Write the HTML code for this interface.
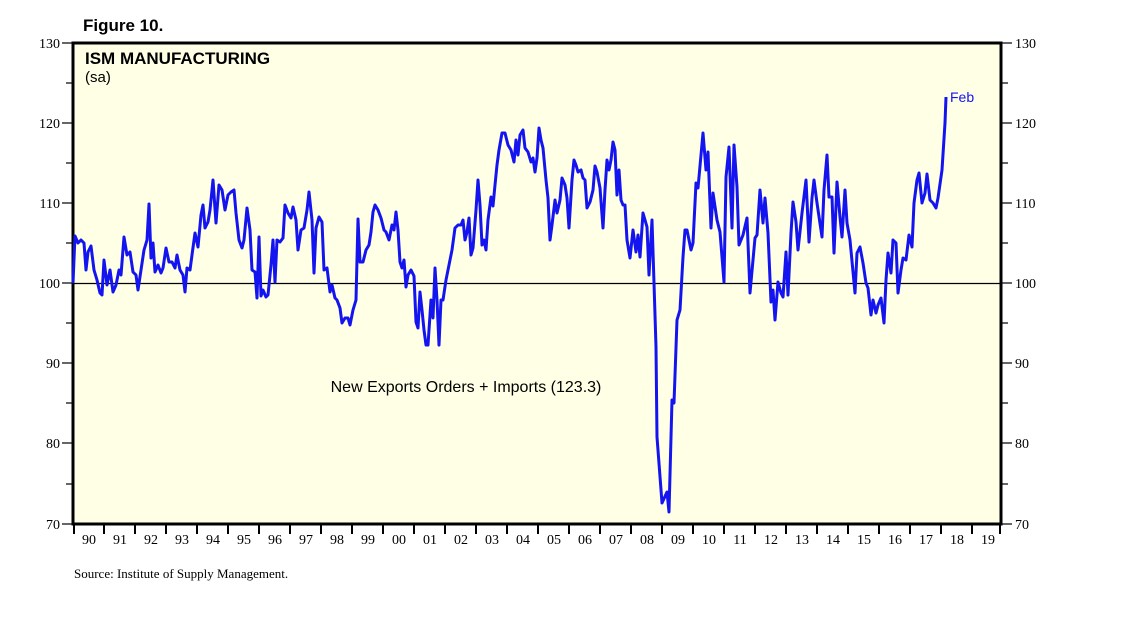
<!DOCTYPE html>
<html><head><meta charset="utf-8"><style>
body{margin:0;background:#fff;width:1138px;height:621px;overflow:hidden}
</style></head><body>
<svg width="1138" height="621" viewBox="0 0 1138 621" xmlns="http://www.w3.org/2000/svg">
<rect x="73" y="43" width="928" height="481" fill="#ffffe6"/>
<line x1="73" y1="283.5" x2="1001" y2="283.5" stroke="#000" stroke-width="1.2"/>
<g stroke="#000" stroke-width="1.2">
<line x1="62" y1="43" x2="73" y2="43"/><line x1="66" y1="83" x2="73" y2="83"/>
<line x1="62" y1="123" x2="73" y2="123"/><line x1="66" y1="163" x2="73" y2="163"/>
<line x1="62" y1="203" x2="73" y2="203"/><line x1="66" y1="243" x2="73" y2="243"/>
<line x1="62" y1="283" x2="73" y2="283"/><line x1="66" y1="323" x2="73" y2="323"/>
<line x1="62" y1="363" x2="73" y2="363"/><line x1="66" y1="403" x2="73" y2="403"/>
<line x1="62" y1="443" x2="73" y2="443"/><line x1="66" y1="484" x2="73" y2="484"/>
<line x1="62" y1="524" x2="73" y2="524"/>
<line x1="1001" y1="43" x2="1012" y2="43"/><line x1="1001" y1="83" x2="1008" y2="83"/>
<line x1="1001" y1="123" x2="1012" y2="123"/><line x1="1001" y1="163" x2="1008" y2="163"/>
<line x1="1001" y1="203" x2="1012" y2="203"/><line x1="1001" y1="243" x2="1008" y2="243"/>
<line x1="1001" y1="283" x2="1012" y2="283"/><line x1="1001" y1="323" x2="1008" y2="323"/>
<line x1="1001" y1="363" x2="1012" y2="363"/><line x1="1001" y1="403" x2="1008" y2="403"/>
<line x1="1001" y1="443" x2="1012" y2="443"/><line x1="1001" y1="484" x2="1008" y2="484"/>
<line x1="1001" y1="524" x2="1012" y2="524"/>
</g>
<g stroke="#000" stroke-width="2">
<line x1="104" y1="524" x2="104" y2="534"/><line x1="135" y1="524" x2="135" y2="534"/><line x1="166" y1="524" x2="166" y2="534"/><line x1="197" y1="524" x2="197" y2="534"/><line x1="228" y1="524" x2="228" y2="534"/><line x1="259" y1="524" x2="259" y2="534"/><line x1="290" y1="524" x2="290" y2="534"/><line x1="321" y1="524" x2="321" y2="534"/><line x1="352" y1="524" x2="352" y2="534"/><line x1="383" y1="524" x2="383" y2="534"/><line x1="414" y1="524" x2="414" y2="534"/><line x1="445" y1="524" x2="445" y2="534"/><line x1="476" y1="524" x2="476" y2="534"/><line x1="507" y1="524" x2="507" y2="534"/><line x1="538" y1="524" x2="538" y2="534"/><line x1="569" y1="524" x2="569" y2="534"/><line x1="600" y1="524" x2="600" y2="534"/><line x1="631" y1="524" x2="631" y2="534"/><line x1="662" y1="524" x2="662" y2="534"/><line x1="693" y1="524" x2="693" y2="534"/><line x1="724" y1="524" x2="724" y2="534"/><line x1="755" y1="524" x2="755" y2="534"/><line x1="786" y1="524" x2="786" y2="534"/><line x1="817" y1="524" x2="817" y2="534"/><line x1="848" y1="524" x2="848" y2="534"/><line x1="879" y1="524" x2="879" y2="534"/><line x1="910" y1="524" x2="910" y2="534"/><line x1="941" y1="524" x2="941" y2="534"/><line x1="972" y1="524" x2="972" y2="534"/><line x1="74" y1="524" x2="74" y2="534"/><line x1="1000" y1="524" x2="1000" y2="534"/>
</g>
<g font-family="Liberation Serif, serif" font-size="14" fill="#000">
<g text-anchor="end"><text x="60" y="48">130</text><text x="60" y="128">120</text><text x="60" y="208">110</text><text x="60" y="288">100</text><text x="60" y="368">90</text><text x="60" y="448">80</text><text x="60" y="529">70</text></g>
<g><text x="1015" y="48">130</text><text x="1015" y="128">120</text><text x="1015" y="208">110</text><text x="1015" y="288">100</text><text x="1015" y="368">90</text><text x="1015" y="448">80</text><text x="1015" y="529">70</text></g>
<g text-anchor="middle"><text x="89" y="544">90</text><text x="120" y="544">91</text><text x="151" y="544">92</text><text x="182" y="544">93</text><text x="213" y="544">94</text><text x="244" y="544">95</text><text x="275" y="544">96</text><text x="306" y="544">97</text><text x="337" y="544">98</text><text x="368" y="544">99</text><text x="399" y="544">00</text><text x="430" y="544">01</text><text x="461" y="544">02</text><text x="492" y="544">03</text><text x="523" y="544">04</text><text x="554" y="544">05</text><text x="585" y="544">06</text><text x="616" y="544">07</text><text x="647" y="544">08</text><text x="678" y="544">09</text><text x="709" y="544">10</text><text x="740" y="544">11</text><text x="771" y="544">12</text><text x="802" y="544">13</text><text x="833" y="544">14</text><text x="864" y="544">15</text><text x="895" y="544">16</text><text x="926" y="544">17</text><text x="957" y="544">18</text><text x="988" y="544">19</text></g>
<text x="74" y="578" font-size="13">Source: Institute of Supply Management.</text>
</g>
<rect x="73" y="43" width="928" height="481" fill="none" stroke="#000" stroke-width="3"/>
<g font-family="Liberation Sans, sans-serif">
<text x="83" y="31" font-size="17" font-weight="bold">Figure 10.</text>
<text x="85" y="64" font-size="17" font-weight="bold">ISM MANUFACTURING</text>
<text x="85" y="82" font-size="15">(sa)</text>
<text x="466" y="392" font-size="16" text-anchor="middle">New Exports Orders + Imports (123.3)</text>
<text x="950" y="102" font-size="14" fill="#1414f0">Feb</text>
</g>
<polyline fill="none" stroke="#1414f0" stroke-width="3" stroke-linejoin="round" points="73,283 75,236 78,243 81,240 84,243 86,270 88,252 91,246 94,270 97,280 100,293 102,295 104,260 107,285 110,270 113,292 116,285 119,270 121,275 124,237 127,255 130,252 133,272 136,275 138,290 141,270 144,250 147,240 149,204 151,258 153,243 155,272 158,265 161,273 163,268 166,248 169,262 172,262 175,268 177,255 180,270 183,275 185,292 187,268 190,270 192,255 195,233 198,247 201,215 203,205 205,228 208,222 210,210 213,180 216,223 219,185 222,190 225,210 228,195 231,192 234,190 236,213 239,240 242,248 244,240 247,208 250,230 252,270 255,272 257,298 259,237 261,296 263,290 266,297 268,295 271,265 273,240 275,282 277,240 280,242 283,238 285,205 288,213 291,218 293,207 296,220 298,250 301,230 304,228 307,210 309,192 312,220 314,273 316,228 319,217 322,222 324,270 327,268 330,292 332,285 335,298 337,300 340,308 342,323 345,318 348,318 350,325 353,310 356,300 358,219 360,262 363,262 366,250 369,245 371,232 373,212 375,205 378,210 381,218 384,230 386,232 389,240 392,225 394,230 396,212 398,230 400,262 402,268 404,260 406,287 408,275 411,270 414,276 416,322 418,328 420,292 422,310 424,330 426,345 428,345 431,300 433,318 435,268 437,300 439,345 441,300 443,300 446,280 449,265 452,250 455,228 458,225 461,225 463,220 465,240 467,232 469,218 471,255 473,248 476,210 478,180 480,205 482,245 484,240 486,250 488,220 491,197 493,206 495,185 497,165 499,150 502,133 505,133 508,145 511,150 514,162 516,140 518,155 520,135 523,130 525,148 528,152 531,162 533,158 535,172 537,158 539,128 541,140 543,148 546,180 548,198 550,240 552,225 555,200 557,213 560,200 562,178 565,185 567,198 569,228 572,180 574,160 576,165 578,172 581,170 583,178 585,180 587,208 590,202 593,190 595,166 597,172 600,188 603,228 605,190 607,160 609,170 611,160 613,142 615,150 617,195 619,170 621,200 623,205 625,205 627,240 630,258 633,230 636,252 638,235 640,257 643,213 647,227 649,275 652,220 654,283 656,347 657,437 662,503 667,492 669,512 672,400 674,403 677,320 680,310 683,257 685,230 687,230 691,250 693,243 696,183 698,188 703,133 706,170 708,152 711,228 713,193 717,220 720,232 724,282 726,177 729,147 732,228 734,145 737,187 739,245 743,235 747,218 750,293 755,238 757,235 760,190 763,223 765,198 768,233 771,302 773,290 775,320 778,282 781,293 783,297 786,252 788,295 791,233 793,202 796,222 798,250 802,213 806,180 809,242 812,198 814,180 817,203 822,237 824,190 827,155 829,197 832,197 834,253 837,182 840,217 842,237 845,190 847,223 850,240 855,293 857,253 860,247 863,263 866,283 868,288 871,315 873,300 876,313 878,305 881,298 884,323 886,280 888,253 891,273 893,240 896,243 898,293 901,270 903,258 906,260 909,235 912,247 914,203 917,180 919,173 922,203 925,193 927,174 930,200 933,203 936,208 938,198 942,170 945,123 946,97"/>
</svg>
</body></html>
